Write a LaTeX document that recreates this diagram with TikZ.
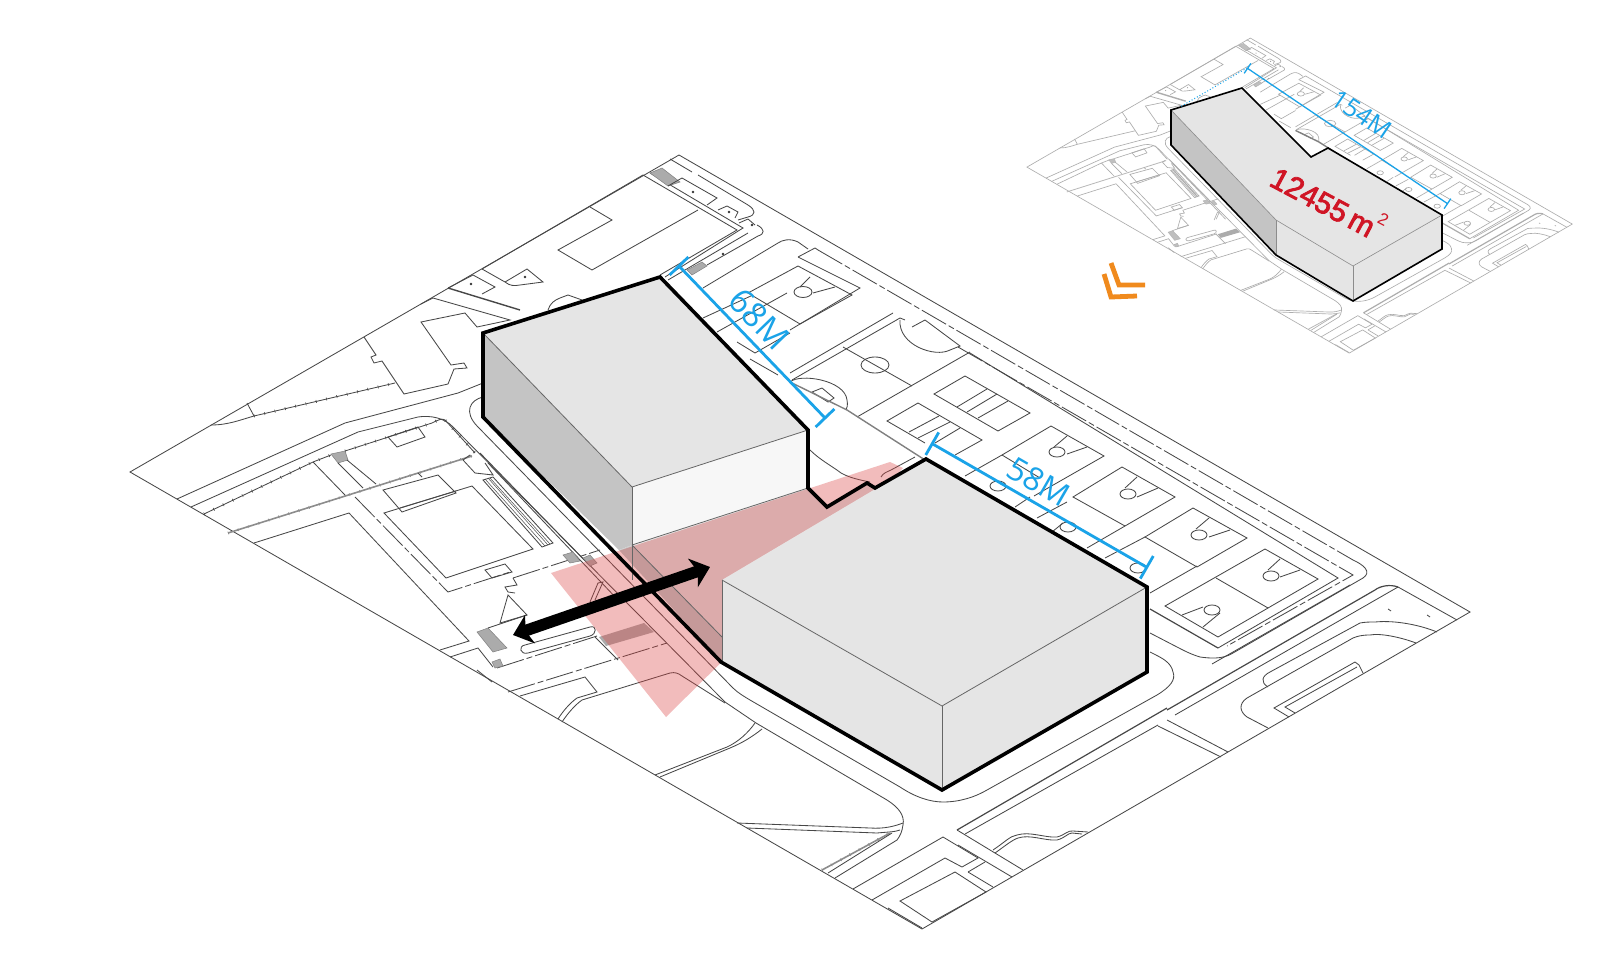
\documentclass[tikz,border=0pt]{standalone}
\usepackage{fontspec}
\setmainfont{Open Sans}
\newfontfamily\redfont[FakeBold=2.6]{Liberation Sans}
\newfontfamily\redthin{Liberation Sans}
\usetikzlibrary{arrows.meta}
\definecolor{roofgrey}{HTML}{E5E5E5}
\definecolor{wallgrey}{HTML}{C4C4C4}
\definecolor{dimblue}{HTML}{1AA3E8}
\definecolor{areared}{HTML}{D01525}
\definecolor{chevron}{HTML}{F08A1D}
\definecolor{fanred}{RGB}{218,64,64}
\tikzset{
  site/.style={draw=black!72, line width=.42pt},
  sitedash/.style={site, dash pattern=on 14pt off 1.5pt on 3pt off 1.5pt},
  sitetick/.style={draw=black!45, line width=.8pt},
  siteticks/.style={postaction={draw, line width=1.5pt, dash pattern=on .3pt off 5pt}},
  sitehatch/.style={fill=black!33, draw=black!50, line width=.25pt},
  sitedot/.style={fill=black!80},
  massline/.style={draw=black!60, line width=.4pt},
  massoutline/.style={draw=black, line join=miter},
  dimline/.style={draw=dimblue, {Bar[width=13pt]}-{Bar[width=13pt]}, line width=1.4pt},
  dimtext/.style={text=dimblue, inner sep=0pt}
}
\newcommand{\sitelines}{%
  \draw[site] (130,472) -- (679,155) -- (1470,612) -- (922,929) -- cycle;
  \draw[site] (211,425) .. controls (228,425) and (240,420) .. (254,416);
  \draw[site, siteticks] (254,416) -- (395,383);
  \draw[site] (247,403) -- (254,416);
  \draw[site] (364,337) -- (376,355) -- (371,357) -- (374,363) -- (382,361) -- (404,394) -- (448,384) -- (454,369) -- (467,368) -- (464,363) -- (451,365) -- (421,322) -- (465,313) -- (477,327) -- (510,320) -- (433,298) -- (421,304);
  \draw[site, line width=.7pt] (448,288) -- (520,310);
  \draw[site] (448,288) -- (473,275) -- (495,287) -- (482,294);
  \draw[site] (482,269) -- (505,282) .. controls (510,286) and (514,286) .. (520,285) -- (543,282) -- (527,269) -- (505,282);
  \draw[site] (482,269) -- (643,175);
  \draw[site] (590,207) -- (612,220) -- (558,250) -- (592,270) -- (698,210);
  \draw[site] (643,175) -- (737,230) -- (660,275);
  \draw[site] (650,173) -- (743,228) -- (665,277);
  \draw[sitehatch] (650,173) -- (662,168) -- (680,182) -- (668,186) -- cycle;
  \draw[site] (668,186) -- (682,178) -- (717,198) -- (707,205);
  \draw[site] (718,210) -- (727,206) -- (738,212) -- (735,218);
  \draw[site] (739,223) -- (748,219) -- (755,225);
  \draw[sitedash] (670,159) -- (692,172);
  \draw[site] (698,175) -- (748,205) .. controls (756,210) and (756,215) .. (748,217) -- (738,220);
  \draw[site] (757,225) .. controls (765,229) and (765,234) .. (758,236) -- (707,265);
  \draw[site] (748,233) -- (668,280);
  \draw[sitehatch] (687,270) -- (702,262) -- (707,266) -- (692,275) -- cycle;
  \draw[site] (548,310) .. controls (550,303) and (555,300) .. (560,298) -- (568,295) -- (582,300);
  \draw[site] (177,499) -- (345,423) -- (458,393) -- (483,383);
  \draw[site] (191,507) -- (358,432) -- (418,417) .. controls (430,415) and (445,418) .. (453,427) -- (725,702) -- (756,723) -- (887,800) .. controls (898,807) and (905,815) .. (903,825) .. controls (902,832) and (900,836) .. (897,840) -- (835,878);
  \draw[site] (483,397) .. controls (470,400) and (463,412) .. (478,427) -- (733,688) .. controls (738,693) and (745,697) .. (750,700) -- (900,787) .. controls (915,797) and (930,802) .. (943,802) .. controls (960,802) and (975,797) .. (987,790) -- (1157,695) .. controls (1170,687) and (1176,680) .. (1173,672) .. controls (1171,662) and (1162,658) .. (1150,652);
  \draw[site] (488,463) -- (618,600);
  \draw[site] (480,453) -- (590,566);
  \draw[sitetick, siteticks] (228,533) -- (472,456);
  \draw[site, siteticks] (204,514) -- (313,462) -- (331,455);
  \draw[site, siteticks] (345,451) -- (432,423) .. controls (438,420) and (442,418) .. (445,420) -- (475,453);
  \draw[sitehatch] (331,454) -- (345,451) -- (348,460) -- (338,463) -- cycle;
  \draw[site] (338,463) -- (363,488);
  \draw[site] (347,460) -- (376,484);
  \draw[site] (313,462) -- (345,495);
  \draw[sitedash] (355,497) -- (448,592) -- (510,572);
  \draw[sitedash] (513,578) -- (600,550);
  \draw[site] (254,543) -- (349,513) -- (469,641) -- (440,650);
  \draw[site] (383,490) -- (438,475) -- (456,493) -- (402,512) -- cycle;
  \draw[site] (418,473) -- (422,477) (400,508) -- (456,491);
  \draw[site] (384,513) -- (472,486) -- (533,549) -- (446,578) -- cycle;
  \draw[site] (388,437) -- (418,427) -- (425,437) -- (397,447) -- cycle;
  \draw[site] (485,570) -- (505,564) -- (512,572) -- (492,578) -- cycle;
  \draw[site] (483,480) -- (493,477) -- (553,543) -- (542,547) -- cycle;
  \draw[site, line width=.25pt] (485,479) -- (545,546) (488,478) -- (548,545) (490,478) -- (550,544);
  \draw[sitehatch] (563,555) -- (573,552) -- (580,561) -- (570,563) -- cycle;
  \draw[sitehatch] (583,558) -- (590,555) -- (597,563) -- (590,566) -- cycle;
  \draw[site] (470,455) -- (463,460) -- (475,473) -- (493,475) -- (485,463);
  \draw[site] (513,578) -- (517,585) -- (505,587) -- (508,592) -- (515,593);
  \draw[site] (508,595) -- (527,615) -- (500,623) -- cycle;
  \draw[sitehatch] (477,632) -- (488,628) -- (507,648) -- (493,652) -- cycle;
  \draw[site] (488,628) -- (527,615);
  \draw[site] (525,645) -- (590,627) .. controls (597,625) and (597,634) .. (590,636) -- (528,653) .. controls (520,655) and (518,646) .. (525,645);
  \draw[site] (450,657) -- (478,648) -- (493,667);
  \draw[site] (477,670) -- (492,682);
  \draw[sitedash] (497,668) -- (597,636);
  \draw[sitehatch] (492,662) -- (500,659) -- (503,666) -- (495,668) -- cycle;
  \draw[site] (595,637) -- (618,660);
  \fill[black!33] (599,637) -- (644,623) -- (654,632) -- (606,646) -- cycle;
  \draw[site] (590,602) -- (598,583) -- (603,582) -- (595,600);
  \draw[sitedash] (508,692) -- (667,643);
  \draw[site] (520,696) -- (585,677) -- (597,692) -- (577,698) .. controls (570,703) and (563,711) .. (558,719);
  \draw[site] (562,722) .. controls (568,713) and (575,705) .. (582,700) -- (670,673) .. controls (675,672) and (678,673) .. (682,676) -- (725,703);
  \draw[site] (655,775) -- (727,747) .. controls (738,742) and (748,733) .. (755,723);
  \draw[site] (660,777) -- (730,748) .. controls (742,743) and (752,737) .. (762,729);
  \draw[site] (737,823) -- (870,828) .. controls (885,829) and (895,826) .. (903,823);
  \draw[site] (747,828) -- (877,833) .. controls (887,832) and (895,832) .. (900,830);
  \draw[sitetick, siteticks] (822,870) -- (890,833);
  \draw[site] (828,873) -- (892,833);
  \draw[site] (853,889) -- (943,837) -- (978,858) -- (962,867) -- (945,858) -- (872,900);
  \draw[site] (957,830) -- (1023,870);
  \draw[site] (958,845) -- (1012,877);
  \draw[site] (968,872) -- (985,862);
  \draw[site] (968,872) -- (993,887);
  \draw[site] (900,901) -- (955,872) -- (986,892) -- (932,922) -- cycle;
  \draw[site] (888,908) -- (922,928);
  \draw[site] (993,850) .. controls (1005,842) and (1010,836) .. (1017,835) .. controls (1030,831) and (1045,838) .. (1057,837) .. controls (1065,835) and (1068,830) .. (1073,831) -- (1088,832);
  \draw[site] (995,853) .. controls (1005,846) and (1012,840) .. (1018,838) .. controls (1030,834) and (1045,841) .. (1057,840) .. controls (1065,838) and (1068,833) .. (1072,833) -- (1082,834);
  \draw[site, line width=.6pt] (957,830) -- (1167,708);
  \draw[site] (965,834) -- (1158,725);
  \draw[site] (1175,715) -- (1398,587) -- (1457,620);
  \draw[site, line width=.6pt] (1167,710) -- (1375,590) .. controls (1380,586) and (1390,584) .. (1398,587);
  \draw[site] (1167,720) -- (1228,752);
  \draw[site] (1158,726) -- (1221,757);
  \draw[site] (1437,632) .. controls (1420,625) and (1395,620) .. (1375,622) .. controls (1370,622) and (1365,622) .. (1360,623) -- (1270,672) .. controls (1262,676) and (1260,682) .. (1268,687);
  \draw[site] (1416,643) .. controls (1400,637) and (1380,633) .. (1370,635) .. controls (1362,635) and (1358,636) .. (1353,638) -- (1247,698) .. controls (1238,704) and (1240,712) .. (1247,717) -- (1268,728);
  \draw[site] (1289,717) -- (1274,708) -- (1355,662) -- (1359,665) -- (1363,673);
  \draw[site] (1295,713) -- (1285,707) -- (1357,667);
  \draw[site] (1388,609) -- (1391,611) (1427,615) -- (1430,617);
  \draw[site] (798,242) .. controls (790,238) and (782,240) .. (778,243) -- (703,288);
  \draw[site] (798,242) -- (808,249);
  \draw[site] (798,257) -- (815,248) -- (818,250);
  \draw[site] (798,257) -- (860,288) -- (790,330);
  \draw[site] (798,266) -- (852,295) -- (800,324) -- (748,293) -- cycle;
  \draw[site] (800,287) -- (810,277);
  \draw[site] (813,293) -- (835,287);
  \draw[site] (803,292) ellipse (9 and 5.5);
  \draw[site] (703,318) -- (753,295);
  \draw[site] (717,332) -- (787,293);
  \draw[site] (737,342) -- (755,353) -- (790,333);
  \draw[site] (750,359) -- (778,375);
  \draw[site] (790,373) -- (893,313);
  \draw[site] (792,380) -- (900,318) -- (905,320);
  \draw[site] (843,347) -- (912,386);
  \draw[site] (875,365) ellipse (14 and 8);
  \draw[site] (790,382) .. controls (800,373) and (845,380) .. (847,400) .. controls (848,405) and (847,408) .. (846,410);
  \draw[site] (812,392) -- (822,388) -- (834,398) -- (828,402) -- cycle;
  \draw[site] (900,320) .. controls (898,345) and (935,358) .. (950,350);
  \draw[site] (912,327) -- (925,320) -- (960,346) -- (950,350);
  \draw[sitedash] (818,250) -- (1353,560);
  \draw[site] (1353,560) .. controls (1364,565) and (1372,572) .. (1363,578) -- (1233,653) .. controls (1222,660) and (1208,658) .. (1200,657) .. controls (1190,654) and (1183,650) .. (1177,647) -- (1150,633);
  \draw[site] (970,353) -- (1338,578) -- (1218,648);
  \draw[sitedash] (958,347) -- (1353,575) -- (1227,646);
  \draw[site] (1212,664) -- (1350,585);
  \draw[site] (970,352) -- (857,417);
  \draw[site, draw=black!50, line width=.7pt] (790,382) -- (847,410) -- (925,460);
  \draw[site, line width=.6pt] (1150,609) -- (1218,648);
  \draw[site] (965,376) -- (1030,413) -- (998,431) -- (934,394) -- cycle;
  \draw[site] (987,389) -- (957,407) (997,394) -- (967,412) (1008,401) -- (978,418);
  \draw[site] (918,403) -- (982,440) -- (955,455) (918,403) -- (887,421) -- (925,443);
  \draw[site] (939,416) -- (909,432) (950,422) -- (918,438) (960,428) -- (935,443);
  \draw[site] (1051,426) -- (1104,456) -- (1034,496) (1051,426) -- (1002,455) -- (965,476);
  \draw[site] (1002,455) -- (1040,478);
  \draw[site] (1057,452) ellipse (8 and 5);
  \draw[site] (1067,436) -- (1054,447) (1087,447) -- (1067,454);
  \draw[site] (1122,467) -- (1175,497) -- (1125,526) -- (1073,497) -- cycle;
  \draw[site] (1128,494) ellipse (8 and 5);
  \draw[site] (1137,477) -- (1125,488) (1158,488) -- (1137,497);
  \draw[site] (1193,508) -- (1247,538) -- (1197,567) -- (1145,537) -- cycle;
  \draw[site] (1199,535) ellipse (8 and 5);
  \draw[site] (1209,518) -- (1196,529) (1230,530) -- (1209,537);
  \draw[site] (1265,549) -- (1318,579) -- (1218,637) -- (1165,606) -- cycle;
  \draw[site] (1216,578) -- (1268,608);
  \draw[site] (1271,576) ellipse (8 and 5);
  \draw[site] (1280,559) -- (1268,570) (1300,570) -- (1280,577);
  \draw[site] (1212,610) ellipse (8 and 5);
  \draw[site] (1182,615) -- (1203,607) (1203,627) -- (1220,613);
  \draw[site] (1150,593) -- (1197,566);
  \draw[site] (1105,558) -- (1145,537);
  \draw[site] (998,486) ellipse (8 and 5);
  \draw[site] (1068,527) ellipse (8 and 5);
  \draw[site] (1138,568) ellipse (8 and 5);
  \draw[site] (1015,507) -- (1030,497) (1037,518) -- (1067,502) (1052,532) -- (1063,523) (1087,548) -- (1125,526);
  \draw[site] (810,450) .. controls (820,460) and (832,466) .. (841,473) .. controls (850,478) and (860,480) .. (870,482);
  \draw[site] (881,477) .. controls (883,473) and (887,472) .. (891,470) -- (915,457);
  \fill[sitedot] (471,284) circle (1.3) (525,277) circle (1.3) (693,192) circle (1.3) (729,212) circle (1.3) (752,225) circle (1.3) (723,254) circle (1.3);
}
\begin{document}
\begin{tikzpicture}[x=.5pt, y=-.5pt]
  \path[use as bounding box, fill=white] (0,0) rectangle (1600,957);
  \sitelines
  \fill[fanred, fill opacity=.35] (551,573) -- (890,462) -- (903,468) -- (752,632) -- (666,717) -- cycle;
  \fill[black, fill opacity=.09] (632,545) -- (808,488) -- (827,507) -- (867,483) -- (875,488) -- (926,459) -- (722,580) -- (722,662) -- (619,550) -- cycle;
  \fill[black, fill opacity=.1] (632,545) -- (722,637) -- (722,662) -- (619,550) -- cycle;
  \fill[wallgrey] (483,333) -- (632,487) -- (632,545) -- (619,550) -- (483,417) -- cycle;
  \fill[black!3] (632,487) -- (808,430) -- (808,488) -- (632,545) -- cycle;
  \fill[roofgrey] (483,333) -- (660,277) -- (808,430) -- (632,487) -- cycle;
  \fill[roofgrey] (722,580) -- (926,459) -- (1147,587) -- (1147,672) -- (942,790) -- (722,662) -- cycle;
  \draw[massline] (483,333) -- (632,487) -- (808,430);
  \draw[massline] (632,487) -- (632,580);
  \draw[massline] (632,545) -- (808,488);
  \draw[massline] (632,545) -- (722,637);
  \draw[massline] (722,580) -- (942,706) -- (1147,587);
  \draw[massline] (942,706) -- (942,790);
  \draw[massline] (722,580) -- (722,662);
  \draw[massoutline, line width=1.8pt] (483,333) -- (660,277) -- (808,430) -- (808,488) -- (827,507) -- (867,483) -- (875,488) -- (926,459) -- (1147,587) -- (1147,672) -- (942,790) -- (721,662) -- (483,417) -- cycle;
  \coordinate (arrowwest) at (513,635);
  \coordinate (arroweast) at (710,567);
  \draw[line width=5.8pt, {Stealth[length=9pt,width=15pt,inset=2.5pt]}-{Stealth[length=9pt,width=15pt,inset=2.5pt]}] (arrowwest) -- (arroweast);
  \coordinate (dima) at (678,265);
  \coordinate (dimb) at (826,419);
  \coordinate (dimc) at (931,443);
  \coordinate (dimd) at (1148,568);
  \draw[dimline] (dima) -- (dimb);
  \draw[dimline] (dimc) -- (dimd);
  \node[dimtext, rotate=-46, font=\fontsize{17}{17}\selectfont] (len68) at (759,319) {68M};
  \node[dimtext, rotate=-30, font=\fontsize{16}{16}\selectfont] (len58) at (1039,482) {58M};
  \draw[chevron, line width=2.4pt, line join=miter] (1111,263) -- (1119,285) -- (1145,285);
  \draw[chevron, line width=2.4pt, line join=miter] (1104,274) -- (1111,297) -- (1137,296);
  \begin{scope}[shift={(974,-25)}, scale=.407, site/.style={draw=black!32, line width=.32pt}, sitedash/.style={site}, sitetick/.style={draw=black!28, line width=.4pt}, siteticks/.style={}, sitehatch/.style={fill=black!25, draw=black!30, line width=.2pt}, sitedot/.style={fill=black!50}]
    \sitelines
  \end{scope}
  \fill[roofgrey] (1171,110) -- (1242,88) -- (1311,157) -- (1328,148) -- (1442,215) -- (1442,249) -- (1353,301) -- (1276,255) -- (1171,145) -- cycle;
  \fill[wallgrey] (1171,110) -- (1276,220) -- (1276,255) -- (1171,145) -- cycle;
  \draw[massline, line width=.3pt, draw=black!45] (1171,110) -- (1276,220) -- (1353,266) -- (1442,215);
  \draw[massline, line width=.3pt, draw=black!45] (1276,220) -- (1276,255) (1353,266) -- (1353,301);
  \draw[massoutline, line width=.8pt] (1171,110) -- (1242,88) -- (1311,157) -- (1328,148) -- (1442,215) -- (1442,249) -- (1353,301) -- (1276,255) -- (1171,145) -- cycle;
  \coordinate (dime) at (1247,68);
  \coordinate (dimf) at (1448,204);
  \coordinate (dimg) at (1180,107);
  \draw[draw=dimblue, line width=.65pt, {Bar[width=6pt]}-{Bar[width=6pt]}] (dime) -- (dimf);
  \draw[draw=dimblue, line width=.5pt, densely dotted] (dime) -- (dimg);
  \node[dimtext, rotate=-34, font=\fontsize{12.5}{12.5}\selectfont] (len154) at (1362,114) {154M};
  \node[inner sep=0pt, rotate=-28, text=areared, font=\redfont\fontsize{15}{15}\selectfont] (areatxt) at (1329,201) {12455\,m\raisebox{1.1ex}{\redthin\fontsize{8.5}{8.5}\selectfont 2}};
\end{tikzpicture}
\end{document}
